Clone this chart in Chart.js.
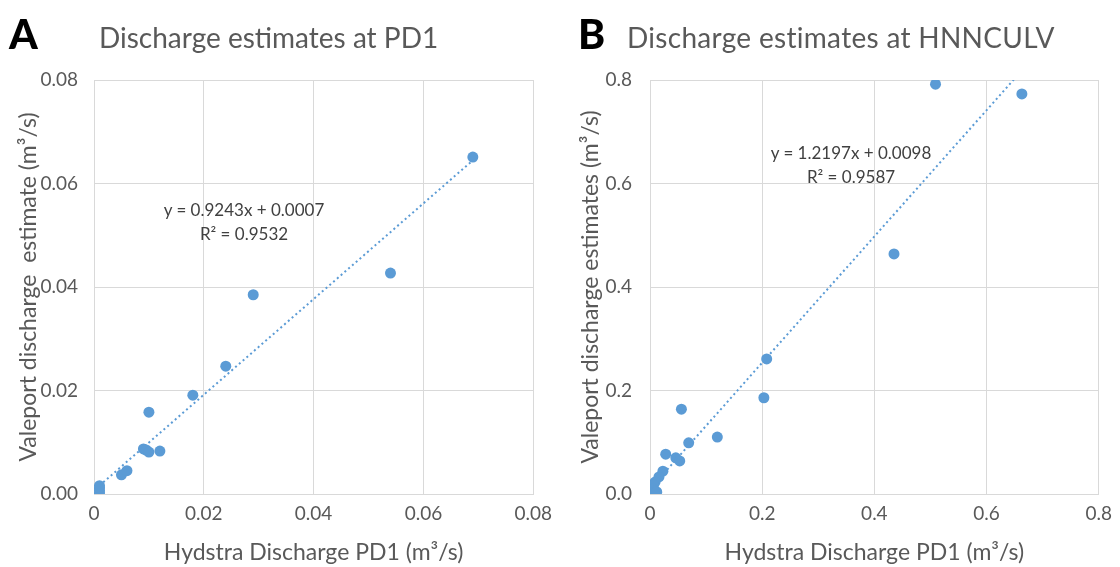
<!DOCTYPE html>
<html>
<head>
<meta charset="utf-8">
<script src="https://cdn.jsdelivr.net/npm/chart.js@4.4.1/dist/chart.umd.min.js"></script>
<style>
  body { margin: 0; background: #fff; width: 1120px; height: 567px; overflow: hidden; font-family: Lato, sans-serif; }
  .panel { position: absolute; top: 0; width: 560px; height: 567px; }
  .letter { position: absolute; top: 9px; font: 900 41px Lato, sans-serif; color: #000; }
  .title { position: absolute; top: 20px; font: 28px Lato, sans-serif; color: #595959; white-space: nowrap; }
  .eq { position: absolute; font: 17px Lato, sans-serif; color: #404040; text-align: center; line-height: 24px; white-space: nowrap; }
</style>
</head>
<body>
<div class="panel" style="left:0"><canvas id="chartA" width="560" height="567"></canvas></div>
<div class="panel" style="left:560px"><canvas id="chartB" width="560" height="567"></canvas></div>
<div class="letter" style="left:9px">A</div>
<div class="title" style="left:99px">Discharge estimates at PD1</div>
<div class="letter" style="left:578px">B</div>
<div class="title" style="left:627px;letter-spacing:0.3px">Discharge estimates at HNNCULV</div>
<div class="eq" style="left:163px;top:198px;width:162px">y = 0.9243x + 0.0007<br>R² = 0.9532</div>
<div class="eq" style="left:766px;top:141px;width:170px">y = 1.2197x + 0.0098<br>R² = 0.9587</div>
<script>
// panel A : PD1
const hydstraA = [0.001, 0.001, 0.001, 0.001, 0.005, 0.006, 0.009, 0.0095, 0.010, 0.012, 0.010, 0.018, 0.024, 0.029, 0.054, 0.069];
const valeportA = [0.0002, 0.0007, 0.0012, 0.0016, 0.0037, 0.0045, 0.0087, 0.0085, 0.0081, 0.0083, 0.0158, 0.0191, 0.0247, 0.0385, 0.0427, 0.0651];
const slopeA = 0.9243, interceptA = 0.0007;
const xTicksA = ['0', '0.02', '0.04', '0.06', '0.08'];
const yTicksA = ['0.00', '0.02', '0.04', '0.06', '0.08'];

// panel B : HNNCULV
const hydstraB = [0.509, 0.663, 0.435, 0.208, 0.203, 0.056, 0.120, 0.069, 0.028, 0.046, 0.053, 0.023, 0.016, 0.009, 0.006, 0.004, 0.009, 0.001, 0.002, 0.012];
const valeportB = [0.792, 0.773, 0.464, 0.261, 0.186, 0.164, 0.110, 0.099, 0.077, 0.070, 0.064, 0.044, 0.033, 0.023, 0.017, 0.010, 0.006, 0.008, 0.003, 0.004];
const slopeB = 1.2197, interceptB = 0.0098;
const xTicksB = ['0', '0.2', '0.4', '0.6', '0.8'];
const yTicksB = ['0.0', '0.2', '0.4', '0.6', '0.8'];

const blue = '#5b9bd5';
const grey = '#595959';
const gridCol = '#d9d9d9';

function makeChart(id, xs, ys, slope, intercept, xLabels, yLabels, max, yTitle, opts) {
    const pts = xs.map((x, i) => ({ x: x, y: ys[i] }));
    const xMin = Math.min(...xs), xMax = Math.max(...xs);
    // Excel-style linear trendline across the data range
    const trend = [xMin, xMax].map(x => ({ x: x, y: slope * x + intercept }));
    const step = max / 4;
    return new Chart(document.getElementById(id), {
        type: 'scatter',
        data: {
            datasets: [{
                data: pts,
                backgroundColor: blue,
                borderWidth: 0,
                pointRadius: 5.5,
                pointHoverRadius: 5.5,
                order: 1
            }, {
                type: 'line',
                data: trend,
                borderColor: blue,
                borderWidth: 2,
                borderDash: [2, 3],
                pointRadius: 0,
                fill: false,
                order: 2
            }]
        },
        options: {
            responsive: false,
            animation: false,
            layout: { padding: { top: 80, right: opts.padRight, left: 0, bottom: 0 } },
            plugins: { legend: { display: false }, tooltip: { enabled: false } },
            scales: {
                x: {
                    type: 'linear', min: 0, max: max,
                    afterBuildTicks: s => { s.ticks = xLabels.map((l, i) => ({ value: i * step })); },
                    ticks: { callback: (v, i) => xLabels[i], color: grey, font: { family: 'Lato', size: 19 }, padding: 8, maxRotation: 0 },
                    grid: { color: gridCol, lineWidth: 1, drawTicks: false },
                    border: { color: gridCol },
                    title: { display: true, text: 'Hydstra Discharge PD1 (m³/s)', color: grey, font: { family: 'Lato', size: 23 }, padding: { top: 0, bottom: 1 } },
                    afterFit: s => { s.height = 73; }
                },
                y: {
                    type: 'linear', min: 0, max: max,
                    afterBuildTicks: s => { s.ticks = yLabels.map((l, i) => ({ value: i * step })); },
                    ticks: { callback: (v, i) => yLabels[i], color: grey, font: { family: 'Lato', size: 19 }, padding: opts.tickPad },
                    grid: { color: gridCol, lineWidth: 1, drawTicks: false },
                    border: { color: gridCol },
                    title: { display: true, text: yTitle, color: grey, font: { family: 'Lato', size: 23 }, padding: { top: opts.titlePad, bottom: 0 } },
                    afterFit: s => { s.width = opts.axisW; }
                }
            }
        }
    });
}

makeChart('chartA', hydstraA, valeportA, slopeA, interceptA, xTicksA, yTicksA, 0.08,
    'Valeport discharge  estimate (m³/s)', { padRight: 25, axisW: 94, tickPad: 16, titlePad: 15 });
makeChart('chartB', hydstraB, valeportB, slopeB, interceptB, xTicksB, yTicksB, 0.8,
    'Valeport discharge estimates (m³/s)', { padRight: 16, axisW: 90, tickPad: 18, titlePad: 17 });
</script>
</body>
</html>
